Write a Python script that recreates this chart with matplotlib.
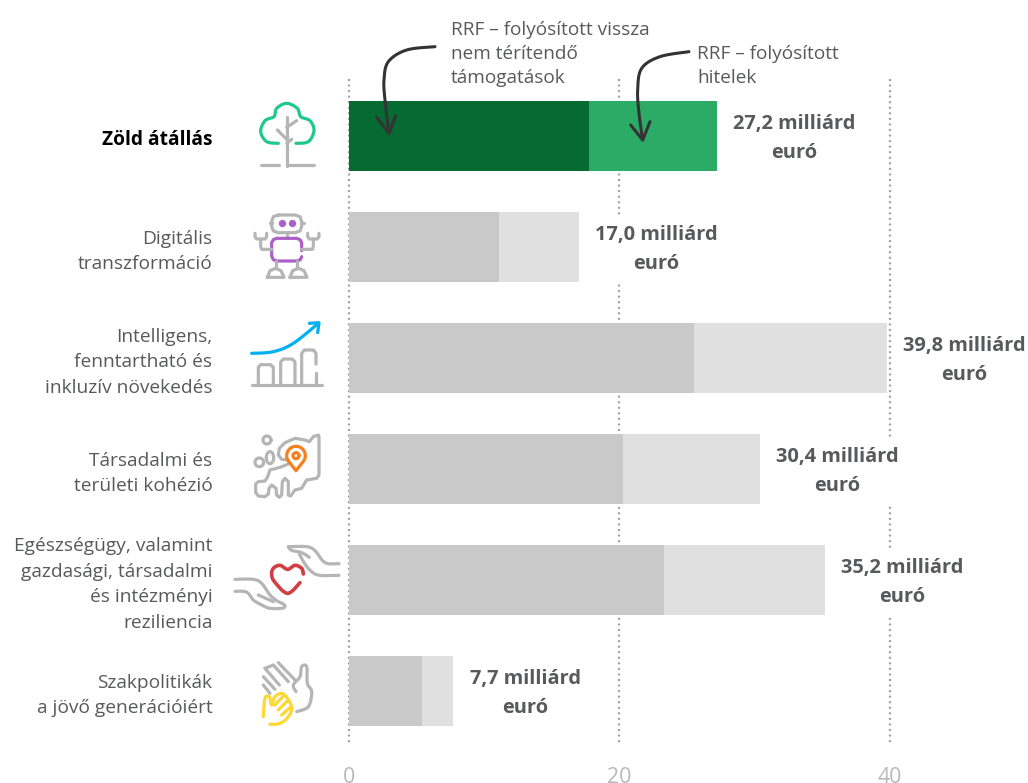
import numpy as np
import matplotlib
matplotlib.use('Agg')
import matplotlib.pyplot as plt

plt.rcParams['font.family'] = ['Open Sans', 'DejaVu Sans']

categories = ['Zöld átállás', 'Digitális\ntranszformáció', 'Intelligens,\nfenntartható és\ninkluzív növekedés',
              'Társadalmi és\nterületi kohézió', 'Egészségügy, valamint\ngazdasági, társadalmi\nés intézményi\nreziliencia',
              'Szakpolitikák\na jövő generációiért']
grants = [17.75, 11.1, 25.5, 20.3, 23.3, 5.4]
totals = [27.2, 17.0, 39.8, 30.4, 35.2, 7.7]
total_labels = ['27,2 milliárd\neuró', '17,0 milliárd\neuró', '39,8 milliárd\neuró',
                '30,4 milliárd\neuró', '35,2 milliárd\neuró', '7,7 milliárd\neuró']
xticks = [0, 20, 40]

GRAY = '#b5b5b5'
TEXT = '#58595b'
W, H = 1028, 783

fig = plt.figure(figsize=(W/100, H/100), dpi=100)

# main axes fills the whole figure, x in bn euro, y in rows
ax = fig.add_axes([0, 0, 1, 1])
ax.set_xlim(-349/13.52, (W-349)/13.52)
ax.set_ylim((H-136)/111, -136/111)
ax.axis('off')

y = np.arange(len(categories))
loans = np.array(totals) - np.array(grants)
for t in xticks:
    ax.plot([t, t], [-0.51, 5.47], color='#a0a0a0', lw=1.6, ls=(0, (0.9, 1.6)), zorder=1)
    ax.text(t, 5.83, str(t), ha='center', va='baseline', fontsize=15.3, color='#b8b8b8')
colors_a = ['#066a33'] + ['#c9c9c9']*5
colors_b = ['#2bab66'] + ['#e0e0e0']*5
ax.barh(y, grants, height=0.63, color=colors_a, zorder=3)
ax.barh(y, loans, left=grants, height=0.63, color=colors_b, zorder=3)

for i, lab in enumerate(categories):
    first = i == 0
    ax.text(-10.11, i + 0.04, lab, ha='right', va='center', fontsize=13.8, linespacing=1.56,
            color='black' if first else TEXT, fontweight='bold' if first else 'normal')
for i, lab in enumerate(total_labels):
    off = 5.33 if i == 5 else 5.73
    ax.text(totals[i] + off, i + 0.02, lab, ha='center', va='center', fontsize=14.45, fontweight='bold',
            linespacing=1.6, color=TEXT, zorder=2,
            bbox=dict(facecolor='white', edgecolor='none', pad=6))

# overlay in pixel coordinates for notes and icons
ov = fig.add_axes([0, 0, 1, 1])
ov.set_xlim(0, W)
ov.set_ylim(H, 0)
ov.axis('off')
ov.patch.set_alpha(0)

ov.text(451, 54, 'RRF – folyósított vissza\nnem térítendő\ntámogatások', ha='left', va='center',
        fontsize=13.7, linespacing=1.45, color=TEXT)
ov.text(697, 66, 'RRF – folyósított\nhitelek', ha='left', va='center', fontsize=13.7, linespacing=1.45, color=TEXT)


def smooth(p, closed=False, n=12):
    # catmull-rom through the given points
    p = np.array(p, dtype=float)
    if closed:
        q = np.vstack([p[-1], p, p[0], p[1]])
    else:
        q = np.vstack([p[0], p, p[-1]])
    out = []
    for i in range(1, len(q)-2):
        for t in np.linspace(0, 1, n, endpoint=False):
            out.append(0.5*((2*q[i]) + (q[i+1]-q[i-1])*t + (2*q[i-1]-5*q[i]+4*q[i+1]-q[i+2])*t**2
                            + (3*q[i]-q[i-1]-3*q[i+1]+q[i+2])*t**3))
    out.append(q[-2])
    return np.array(out)


def draw(p, color=GRAY, lw=2.3, org=(220, 90), curve=False, closed=False, scale=3.0):
    p = smooth(p, closed) if curve else np.array(p, dtype=float)
    ov.plot(org[0] + p[:, 0]/scale, org[1] + p[:, 1]/scale, color=color, lw=lw,
            solid_capstyle='round', solid_joinstyle='round', zorder=5)


def ring(cx, cy, rx, ry=None, color=GRAY, lw=2.3, org=(220, 90)):
    ry = rx if ry is None else ry
    a = np.linspace(0, 2*np.pi, 50)
    draw(np.c_[cx + rx*np.cos(a), cy + ry*np.sin(a)], color, lw, org)


# arrows
INK = '#333333'
A0 = (340, 0)
draw([(285, 140), (200, 150), (145, 185), (132, 240), (135, 300), (147, 400)], INK, 2.2, A0, True)
draw([(110, 352), (147, 400), (167, 348)], INK, 2.2, A0)
draw([(1047, 155), (960, 170), (905, 205), (893, 270), (897, 340), (908, 420)], INK, 2.2, A0, True)
draw([(872, 375), (908, 420), (930, 365)], INK, 2.2, A0)

# tree
GREEN = '#1ec98b'
draw([(175, 160), (140, 155), (122, 125), (135, 92), (162, 80), (170, 55), (200, 40), (232, 55),
      (242, 80), (270, 92), (282, 122), (265, 155), (228, 160)], GREEN, 2.3, curve=True)
draw([(200, 80), (200, 228)])
draw([(172, 120), (200, 148)])
draw([(200, 112), (230, 92)])
draw([(200, 160), (215, 148)])
draw([(122, 226), (177, 226)])
draw([(200, 226), (282, 226)])

# robot
PURPLE = '#ab5fc7'
draw([(175, 375), (225, 375), (240, 380), (245, 395), (245, 410), (240, 423), (225, 428), (175, 428), (160, 423),
      (155, 410), (155, 395), (160, 380), (175, 375)])
draw([(150, 400), (155, 400)])
draw([(245, 400), (252, 400)])
ov.scatter([220 + 185/3, 220 + 215/3], [90 + 400/3]*2, s=18, color=PURPLE, zorder=5)
draw([(200, 428), (200, 445)])
draw([(245, 482), (245, 458), (240, 449), (230, 445), (170, 445), (160, 449), (155, 458), (155, 498), (160, 509),
      (170, 513), (232, 513), (241, 509), (245, 500)], PURPLE, 2.3)
draw([(155, 478), (125, 478), (122, 470), (122, 448)])
draw([(105, 430), (105, 440), (110, 447), (135, 447), (140, 440), (140, 430)])
draw([(245, 478), (277, 478), (280, 470), (280, 448)])
draw([(263, 430), (263, 440), (268, 447), (292, 447), (297, 440), (297, 430)])
draw([(168, 513), (168, 535)])
draw([(232, 513), (232, 535)])
draw([(142, 562), (150, 542), (167, 535), (183, 542), (192, 562), (142, 562)])
draw([(210, 562), (218, 542), (235, 535), (252, 542), (261, 562), (210, 562)])

# growth chart
BLUE = '#00b0f0'
draw([(95, 790), (160, 785), (220, 760), (295, 700)], BLUE, 2.3, curve=True)
draw([(268, 700), (297, 698), (293, 728)], BLUE, 2.3)
draw([(95, 884), (307, 884)])
draw([(115, 884), (115, 832), (122, 824), (152, 824), (160, 832), (160, 884)])
draw([(182, 884), (182, 816), (190, 807), (217, 807), (225, 816), (225, 884)])
draw([(245, 884), (245, 790), (253, 780), (280, 780), (288, 790), (288, 822)])
draw([(288, 848), (288, 884)])

# map
M0 = (220, 420)
ORANGE = '#f7801e'
ring(141, 60, 12, org=M0)
ring(150, 113, 11, 18, org=M0)
ring(118, 127, 13, org=M0)
draw([(205, 120), (185, 118), (175, 105), (178, 85), (195, 68), (225, 55), (255, 60), (268, 65), (280, 50), (295, 45),
      (297, 50), (297, 165), (290, 175), (260, 180), (245, 205), (225, 210), (212, 228), (205, 225), (205, 185),
      (195, 175), (187, 185), (185, 225), (178, 232), (170, 225), (168, 205), (155, 195), (147, 205), (145, 222),
      (135, 230), (115, 228), (107, 218), (107, 192), (115, 185), (135, 183), (143, 170), (150, 150), (180, 142),
      (205, 132)], org=M0)
a = np.radians(np.linspace(215, -35, 40))
pin = np.c_[228 + 28*np.cos(a), 107 - 28*np.sin(a)]
pin = np.vstack([pin, [(228, 152)], pin[0]])
# white under the pin so the map line stops at it
ov.fill(220 + pin[:, 0]/3, 420 + pin[:, 1]/3, color='white', zorder=4.9)
draw(pin, ORANGE, 2.3, M0)
ring(228, 107, 9, color=ORANGE, org=M0)

# hands and heart
RED = '#d13f42'
draw([(205, 380), (260, 380), (285, 392), (308, 422), (325, 431), (357, 431)], org=M0, curve=True)
draw([(205, 380), (215, 391), (245, 398), (268, 412)], org=M0, curve=True)
draw([(238, 402), (255, 432), (275, 455), (300, 466), (357, 466)], org=M0, curve=True)
draw([(45, 478), (100, 478), (125, 490), (150, 525), (170, 542), (190, 552), (195, 560), (185, 565), (150, 565),
      (125, 555), (100, 540), (85, 520), (70, 514), (45, 514)], org=M0, curve=True)
draw([(115, 525), (160, 545)], org=M0)
draw([(250, 462), (245, 445), (225, 436), (203, 448), (180, 436), (160, 445), (155, 465), (165, 487), (203, 520),
      (240, 488)], RED, 2.6, M0, True)

# clapping hands
YELLOW = '#fdd835'
draw([(135, 745), (160, 735), (205, 785)], org=M0)
draw([(175, 728), (225, 780)], org=M0)
draw([(135, 745), (178, 795)], org=M0)
draw([(130, 770), (165, 808)], org=M0)
draw([(130, 795), (150, 820)], org=M0)
draw([(228, 815), (220, 795), (240, 770), (245, 740), (260, 740), (262, 790), (275, 815), (265, 860), (230, 875)],
     org=M0, curve=True)
draw([(130, 890), (135, 835), (148, 830), (155, 855), (165, 830), (190, 822), (215, 860), (205, 890), (180, 910),
      (150, 913)], YELLOW, 2.3, M0, True)
draw([(165, 855), (190, 828)], YELLOW, 2.3, M0)
draw([(175, 870), (203, 842)], YELLOW, 2.3, M0)
draw([(185, 885), (213, 860)], YELLOW, 2.3, M0)

fig.savefig('out.png', dpi=100)
